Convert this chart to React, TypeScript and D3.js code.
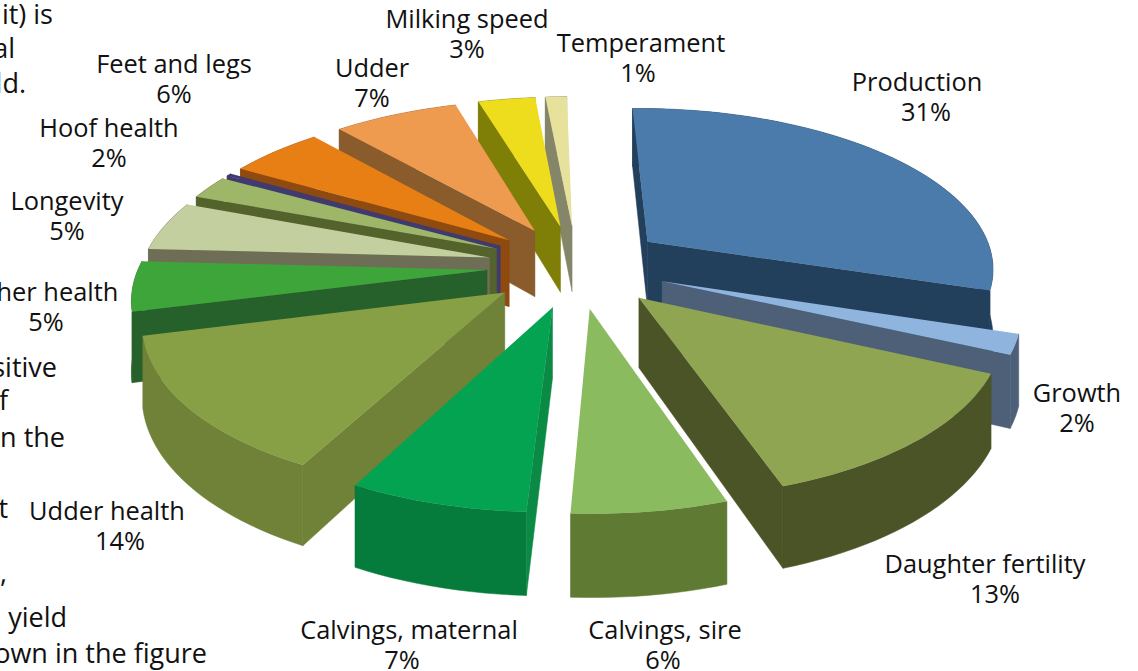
import React from "react";
import * as d3 from "d3";

const categories = ["Production", "Growth", "Daughter fertility", "Calvings, sire", "Calvings, maternal", "Udder health", "Other health", "Longevity", "Hoof health", "", "Feet and legs", "Udder", "Milking speed", "Temperament"];
// slice sizes, the printed percentages are rounded
const shares = [31, 2, 13.3, 6.1, 7, 13.7, 5, 5, 2.4, 0.3, 5.3, 7, 3.2, 1.2];
const percentLabels = ["31%", "2%", "13%", "6%", "7%", "14%", "5%", "5%", "2%", "", "6%", "7%", "3%", "1%"];

const topColors = ["#4a7bab", "#8fb4dd", "#8fa552", "#8abb5f", "#03a352", "#879f45", "#3ea53b", "#c3cf9f", "#9db668", "#3f3a70", "#e87f14", "#ee9a4f", "#eedd1c", "#e6e29c"];
const wallColors = ["#223f5c", "#4d6078", "#4b5426", "#6e8c44", "#0a8a45", "#6f8237", "#26602a", "#6e6e56", "#54622c", "#3f3a70", "#8f4a10", "#8a5c2c", "#7f7f08", "#85856a"];
const rimColors = ["#223f5c", "#4d6078", "#4b5426", "#5f7a33", "#067c3c", "#6f8237", "#26602a", "#6e6e56", "#54622c", "#3f3a70", "#8f4a10", "#8a5c2c", "#7f7f08", "#85856a"];

// label x, baseline y, percent x
const labelPos: [number, number, number][] = [
  [917, 91, 926], [1077, 402, 1077], [985, 573, 995], [665, 639, 663], [409, 639, 402], [107, 520, 120], [43, 301, 46], [67, 210, 67], [109, 137, 109], [0, 0, 0], [174, 73, 174], [372, 77, 372], [467, 28, 467], [641, 52, 638],
];

// scraps of the page text that sit behind the chart, cut off at the left edge
const pageText: [string, number, number][] = [
  ["it) is", 53, 24], ["al", 15, 58], ["ld.", 26, 93], ["sitive", 57, 377], ["f", 8, 410], ["n the", 65, 447], ["t", 8, 518], [",", 7, 582], ["yield", 67, 627], ["own in the figure", 207, 663],
];

const cx = 577;
const cy = 266;
const R = 348;
const explode = 90;
const tiltY = 0.46;
const persp = 0.15;
const height = 68;

const project = (X: number, Y: number, z: number): [number, number] => {
  const s = 1 / (1 + (persp * Y) / R);
  return [cx + X * s, cy - Y * tiltY * s + z * s];
};

const line = d3.line();

// a side wall shows only if dropping the edge moves it away from the slice
const wallShows = (apex: number[], edge: number[], other: number[]) => {
  const ex = edge[0] - apex[0];
  const ey = edge[1] - apex[1];
  const inside = ex * (other[1] - apex[1]) - ey * (other[0] - apex[0]);
  return inside * ex < 0;
};

const App = () => {
  const arcs = d3.pie<number>().sort(null).startAngle(-0.02).endAngle(2 * Math.PI - 0.02)(shares);

  const slices = arcs
    .map((a, i) => {
      const mid = (a.startAngle + a.endAngle) / 2;
      const ox = explode * Math.sin(mid);
      const oy = explode * Math.cos(mid);
      const n = Math.max(2, Math.ceil((a.endAngle - a.startAngle) * 30));
      const ground = d3.range(n + 1).map((k) => {
        const t = a.startAngle + ((a.endAngle - a.startAngle) * k) / n;
        return [ox + R * Math.sin(t), oy + R * Math.cos(t)];
      });
      const rimTop = ground.map(([x, y]) => project(x, y, 0));
      const rimBottom = ground.map(([x, y]) => project(x, y, height));
      const apexTop = project(ox, oy, 0);
      const apexBottom = project(ox, oy, height);
      return { i, oy, rimTop, rimBottom, apexTop, apexBottom };
    })
    .sort((a, b) => b.oy - a.oy);

  return (
    <svg width={1138} height={671} style={{ position: "absolute", left: 0, top: 0, background: "#fff" }} fontFamily="'Open Sans'" fontSize={25.4} fill="#111">
      {slices.map((s) => {
        const first = s.rimTop[0];
        const firstB = s.rimBottom[0];
        const last = s.rimTop[s.rimTop.length - 1];
        const lastB = s.rimBottom[s.rimBottom.length - 1];
        const walls: [number, number][][] = [];
        if (wallShows(s.apexTop, first, last)) walls.push([s.apexTop, first, firstB, s.apexBottom]);
        if (wallShows(s.apexTop, last, first)) walls.push([s.apexTop, last, lastB, s.apexBottom]);
        return (
          <g key={s.i}>
            <path d={line([...s.rimTop, ...[...s.rimBottom].reverse()]) + "Z"} fill={rimColors[s.i]} stroke={rimColors[s.i]} strokeWidth={0.5} />
            {walls.map((w, k) => (
              <path key={k} d={line(w) + "Z"} fill={wallColors[s.i]} stroke={wallColors[s.i]} strokeWidth={0.5} />
            ))}
            <path d={line([s.apexTop, ...s.rimTop]) + "Z"} fill={topColors[s.i]} />
          </g>
        );
      })}
      <g textAnchor="middle">
        {categories.map((c, i) =>
          c ? (
            <g key={c}>
              <text x={labelPos[i][0]} y={labelPos[i][1]}>{c}</text>
              <text x={labelPos[i][2]} y={labelPos[i][1] + 30}>{percentLabels[i]}</text>
            </g>
          ) : null
        )}
      </g>
      <g textAnchor="end" fontSize={27}>
        {pageText.map(([t, x, y]) => (
          <text key={t + y} x={x} y={y}>{t}</text>
        ))}
      </g>
    </svg>
  );
};

export default App;
